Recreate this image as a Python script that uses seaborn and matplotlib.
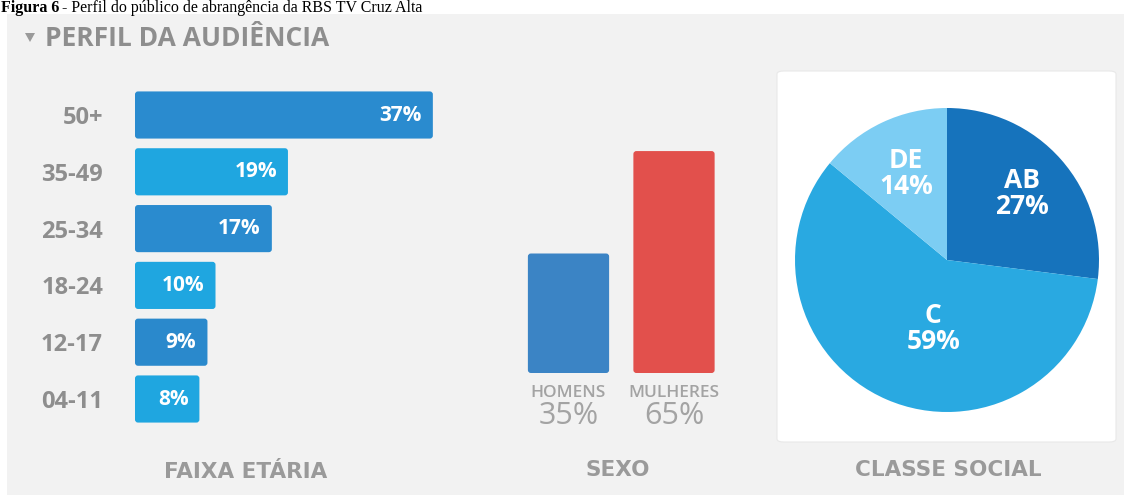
import matplotlib
matplotlib.use("Agg")
import matplotlib.pyplot as plt
from matplotlib.patches import FancyBboxPatch, Rectangle, Polygon
import numpy as np
import pandas as pd
import seaborn as sns

# ---- data ----
age_groups = ["50+", "35-49", "25-34", "18-24", "12-17", "04-11"]
age_share = [37, 19, 17, 10, 9, 8]

sex_groups = ["HOMENS", "MULHERES"]
sex_share = [35, 65]

class_groups = ["AB", "C", "DE"]
class_share = [27, 59, 14]

# ---- styling ----
W, H = 1124, 495
PANEL = "#f2f2f2"
age_colors = ["#2a8bcf", "#1fa6e0", "#2a8bcf", "#1fa6e0", "#2a89cc", "#1fa6e0"]
sex_colors = ["#3b84c5", "#e2504c"]
class_colors = ["#1673bc", "#29a9e1", "#7ccdf3"]
LABEL_GRAY = "#8e8e8e"
SOFT_GRAY = "#a3a3a3"

sns.set_theme(style="white")
plt.rcParams["font.family"] = ["Open Sans", "DejaVu Sans"]


def fx(px):
    return px / W


def fy(py):
    return 1 - py / H


fig = plt.figure(figsize=(W / 100, H / 100), dpi=100)
fig.patch.set_facecolor("white")

# panel background and caption
fig.patches.append(Rectangle((fx(7), 0), 1 - fx(7), fy(14), transform=fig.transFigure,
                             facecolor=PANEL, edgecolor="none", zorder=-2))
fig.text(fx(1), fy(11.5), "Figura 6", ha="left", va="baseline", fontsize=11.5,
         fontweight="bold", family="Liberation Serif", color="black", zorder=5)
fig.text(fx(62), fy(11.5), "- Perfil do público de abrangência da RBS TV Cruz Alta",
         ha="left", va="baseline", fontsize=11.5, family="Liberation Serif",
         color="black", zorder=5)

# header
fig.patches.append(Polygon([(fx(25), fy(33)), (fx(35), fy(33)), (fx(30), fy(42))],
                           closed=True, transform=fig.transFigure,
                           facecolor="#9a9a9a", edgecolor="none", zorder=-1))
fig.text(fx(45), fy(39), "PERFIL DA AUDIÊNCIA", ha="left", va="center", fontsize=19,
         fontweight="bold", color=LABEL_GRAY)


def round_bars(ax, patches, radius_px, px_per_x, px_per_y):
    """Swap plain bar rectangles for rounded boxes of the same extent."""
    for p in list(patches):
        x, y = p.get_x(), p.get_y()
        w, h = p.get_width(), p.get_height()
        fc = p.get_facecolor()
        p.remove()
        box = FancyBboxPatch((x, y), w, h,
                             boxstyle=f"round,pad=0,rounding_size={radius_px / px_per_x}",
                             mutation_aspect=px_per_x / px_per_y,
                             facecolor=fc, edgecolor="none", zorder=2)
        ax.add_patch(box)


# ---- age groups (horizontal bars) ----
age_left, age_right = 135, 457
age_top, age_bottom = 86.6, 427.4
ax_age = fig.add_axes([fx(age_left), fy(age_bottom), fx(age_right) - fx(age_left),
                       fy(age_top) - fy(age_bottom)])
df_age = pd.DataFrame({"faixa": age_groups, "pct": age_share})
sns.barplot(data=df_age, x="pct", y="faixa", hue="faixa", palette=age_colors,
            saturation=1, legend=False, orient="h", width=0.83, ax=ax_age)
ax_age.set_xlim(0, 40)
ax_age.set_ylim(5.5, -0.5)
px_x = (age_right - age_left) / 40
px_y = (age_bottom - age_top) / 6
round_bars(ax_age, ax_age.patches, 3, px_x, px_y)
for i, v in enumerate(age_share):
    ax_age.text(v - 11 / px_x, i, f"{v}%", ha="right", va="center", color="white",
                fontsize=15, fontweight="bold")
ax_age.set_xlabel("")
ax_age.set_ylabel("")
ax_age.set_xticks([])
ax_age.tick_params(axis="y", length=0, pad=23, labelsize=17, labelcolor=LABEL_GRAY)
for t in ax_age.get_yticklabels():
    t.set_fontweight("bold")
ax_age.set_facecolor("none")
sns.despine(ax=ax_age, left=True, bottom=True)

fig.text(fx(246), fy(472), "FAIXA ETÁRIA", ha="center", va="center", fontsize=15.5,
         fontweight="bold", family="DejaVu Sans", color="#9a9a9a")

# ---- sex (vertical bars) ----
sex_left, sex_width = 515.75, 211
sex_bottom, sex_top = 373, 134
ax_sex = fig.add_axes([fx(sex_left), fy(sex_bottom), sex_width / W,
                       fy(sex_top) - fy(sex_bottom)])
df_sex = pd.DataFrame({"sexo": sex_groups, "pct": sex_share})
sns.barplot(data=df_sex, x="sexo", y="pct", hue="sexo", palette=sex_colors,
            saturation=1, legend=False, width=0.77, ax=ax_sex)
ax_sex.set_xlim(-0.5, 1.5)
ax_sex.set_ylim(0, 70)
spx_x = sex_width / 2
spx_y = (sex_bottom - sex_top) / 70
round_bars(ax_sex, ax_sex.patches, 3, spx_x, spx_y)
for i, (g, v) in enumerate(zip(sex_groups, sex_share)):
    ax_sex.text(i, -20 / spx_y, g, ha="center", va="center", fontsize=12.5,
                fontweight="semibold", color=SOFT_GRAY, clip_on=False)
    ax_sex.text(i, -43 / spx_y, f"{v}%", ha="center", va="center", fontsize=22,
                color=SOFT_GRAY, clip_on=False)
ax_sex.set_axis_off()

fig.text(fx(618), fy(470), "SEXO", ha="center", va="center", fontsize=15.5,
         fontweight="bold", family="DejaVu Sans", color="#9a9a9a")

# ---- social class (pie) ----
fig.patches.append(FancyBboxPatch((fx(777), fy(442)), fx(1116) - fx(777), fy(71) - fy(442),
                                  boxstyle="round,pad=0,rounding_size=0.006",
                                  transform=fig.transFigure, facecolor="white",
                                  edgecolor="#e8e8e8", linewidth=0.8, zorder=-1))
r = 152
ax_pie = fig.add_axes([fx(947 - r), fy(260 + r), 2 * r / W, 2 * r / H])
wedges, _ = ax_pie.pie(class_share, colors=class_colors, startangle=90,
                       counterclock=False, radius=1,
                       wedgeprops=dict(linewidth=0, edgecolor="none"))
ax_pie.set_xlim(-1, 1)
ax_pie.set_ylim(-1, 1)
label_place = {"AB": (0.66, 0.0), "C": (0.46, 12.0), "DE": (0.63, 0.0)}
for w, g, v in zip(wedges, class_groups, class_share):
    mid = np.deg2rad((w.theta1 + w.theta2) / 2 + label_place[g][1])
    d = label_place[g][0]
    ax_pie.text(d * np.cos(mid), d * np.sin(mid), f"{g}\n{v}%", ha="center",
                va="center", color="white", fontsize=19, fontweight="bold",
                linespacing=0.95)

fig.text(fx(948), fy(470), "CLASSE SOCIAL", ha="center", va="center", fontsize=15.5,
         fontweight="bold", family="DejaVu Sans", color="#9a9a9a")

fig.savefig("out.png", dpi=100, facecolor=fig.get_facecolor())
